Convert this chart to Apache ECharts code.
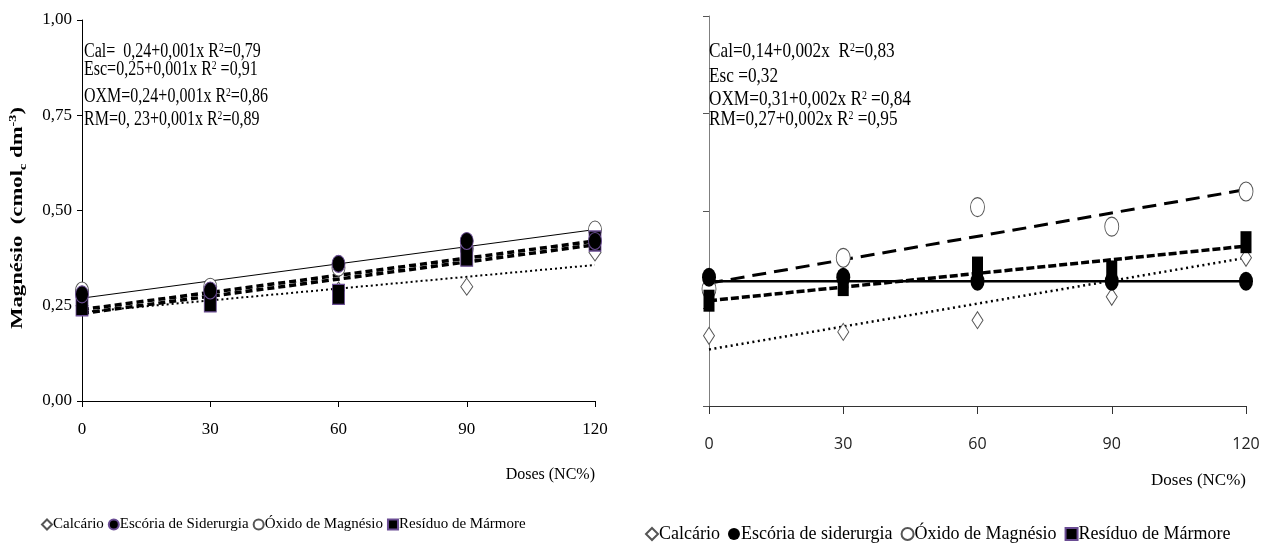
<!DOCTYPE html>
<html>
<head>
<meta charset="utf-8">
<script src="https://cdn.jsdelivr.net/npm/echarts@6/dist/echarts.min.js"></script>
<style>
  html, body { margin: 0; padding: 0; background: #fff; }
  #chart { width: 1269px; height: 543px; }
</style>
</head>
<body>
<div id="chart"></div>
<script>
// doses (% da NC)
var doses = [0, 30, 60, 90, 120];
var trendX = [0, 120];

// grafico esquerdo
var calcarioA = [0.25, 0.27, 0.29, 0.30, 0.39];
var escoriaA = [0.28, 0.29, 0.36, 0.42, 0.42];
var oxidoA = [0.29, 0.30, 0.35, 0.40, 0.45];
var residuoA = [0.25, 0.26, 0.28, 0.38, 0.42];
var calTrendA = [0.233, 0.357];
var escTrendA = [0.24, 0.42];
var oxmTrendA = [0.27, 0.45];
var rmTrendA = [0.23, 0.41];

// grafico direito
var calcarioB = [0.18, 0.19, 0.22, 0.28, 0.38];
var escoriaB = [0.33, 0.33, 0.32, 0.32, 0.32];
var oxidoB = [0.30, 0.38, 0.51, 0.46, 0.55];
var residuoB = [0.27, 0.31, 0.355, 0.345, 0.42];
var calTrendB = [0.145, 0.38];
var escTrendB = [0.32, 0.32];
var oxmTrendB = [0.315, 0.555];
var rmTrendB = [0.27, 0.41];

var yTicks = ['0,00', '0,25', '0,50', '0,75', '1,00'];
var xTicks = ['0', '30', '60', '90', '120'];

var eqA = [
  ['Cal=  0,24+0,001x R', '=0,79'],
  ['Esc=0,25+0,001x R', ' =0,91'],
  ['OXM=0,24+0,001x R', '=0,86'],
  ['RM=0, 23+0,001x R', '=0,89']
];
var eqB = [
  ['Cal=0,14+0,002x  R', '=0,83'],
  ['Esc =0,32', null],
  ['OXM=0,31+0,002x R', ' =0,84'],
  ['RM=0,27+0,002x R', ' =0,95']
];

var serif = '"Liberation Serif", "Times New Roman", serif';
var sans = '"Open Sans", "Noto Sans", sans-serif';

function pair(xs, ys) {
  return xs.map(function (x, i) { return [x, ys[i]]; });
}

var chart = echarts.init(document.getElementById('chart'));

function scatter(name, idx, data, symbol, size, filled, z) {
  return {
    name: name,
    type: 'scatter',
    xAxisIndex: idx,
    yAxisIndex: idx,
    data: pair(doses, data),
    symbol: symbol,
    symbolSize: size,
    z: z,
    itemStyle: filled
      ? { color: '#000', opacity: 1, borderColor: idx === 0 ? '#6a4c93' : '#000', borderWidth: idx === 0 ? 1 : 0 }
      : { color: '#fff', opacity: 1, borderColor: '#555', borderWidth: 1 }
  };
}

function trend(name, idx, data, type, width) {
  return {
    name: name,
    type: 'line',
    xAxisIndex: idx,
    yAxisIndex: idx,
    data: pair(trendX, data),
    showSymbol: false,
    symbol: 'none',
    silent: true,
    z: 3,
    lineStyle: { color: '#000', width: width, type: type }
  };
}

function eqText(list, x, ys, size, sx) {
  return list.map(function (item, i) {
    var txt = item[1] === null ? '{n|' + item[0] + '}' : '{n|' + item[0] + '}{s|2}{n|' + item[1] + '}';
    return {
      type: 'text',
      x: x,
      y: ys[i],
      scaleX: sx,
      z: 50,
      style: {
        text: txt,
        fill: '#000',
        verticalAlign: 'middle',
        rich: {
          n: { fontFamily: serif, fontSize: size, verticalAlign: 'bottom', lineHeight: 20 },
          s: { fontFamily: serif, fontSize: 12, verticalAlign: 'top', lineHeight: 20 }
        }
      }
    };
  });
}

var legendA = [
  { name: 'Calcário', icon: 'diamond' },
  { name: 'Escória de Siderurgia', icon: 'circle' },
  { name: 'Óxido de Magnésio', icon: 'circle' },
  { name: 'Resíduo de Mármore', icon: 'rect' }
];
var legendB = [
  { name: 'Calcário', icon: 'diamond' },
  { name: 'Escória de siderurgia', icon: 'circle' },
  { name: 'Óxido de Magnésio', icon: 'circle' },
  { name: 'Resíduo de Mármore', icon: 'rect' }
];

var option = {
  animation: false,
  backgroundColor: '#fff',
  grid: [
    { left: 82, right: 674, top: 20, bottom: 142 },
    { left: 709, right: 23, top: 16, bottom: 137 }
  ],
  xAxis: [
    {
      type: 'value', gridIndex: 0, min: 0, max: 120, interval: 30,
      splitLine: { show: false },
      axisLine: { lineStyle: { color: '#000', width: 1 } },
      axisTick: { length: 6, lineStyle: { color: '#000' } },
      axisLabel: { color: '#000', fontFamily: serif, fontSize: 17, margin: 20,
        formatter: function (v) { return xTicks[doses.indexOf(v)]; } },
      name: 'Doses (NC%)', nameLocation: 'end', nameGap: 0,
      nameTextStyle: { color: '#000', fontFamily: serif, fontSize: 16, align: 'right', verticalAlign: 'top', padding: [66, 0, 0, 0] }
    },
    {
      type: 'value', gridIndex: 1, min: 0, max: 120, interval: 30,
      splitLine: { show: false },
      axisLine: { lineStyle: { color: '#333', width: 1 } },
      axisTick: { length: 8, lineStyle: { color: '#333' } },
      axisLabel: { color: '#222', fontFamily: sans, fontSize: 16, margin: 30,
        formatter: function (v) { return xTicks[doses.indexOf(v)]; } },
      name: 'Doses (NC%)', nameLocation: 'end', nameGap: 0,
      nameTextStyle: { color: '#000', fontFamily: serif, fontSize: 17, align: 'right', verticalAlign: 'top', padding: [66, 0, 0, 0] }
    }
  ],
  yAxis: [
    {
      type: 'value', gridIndex: 0, min: 0, max: 1, interval: 0.25,
      splitLine: { show: false },
      axisLine: { show: true, lineStyle: { color: '#000', width: 1 } },
      axisTick: { show: true, length: 5, lineStyle: { color: '#000' } },
      axisLabel: { color: '#000', fontFamily: serif, fontSize: 17, margin: 10,
        formatter: function (v) { return yTicks[Math.round(v * 4)]; } }
    },
    {
      type: 'value', gridIndex: 1, min: 0, max: 1, interval: 0.25,
      splitLine: { show: false },
      axisLine: { show: true, lineStyle: { color: '#7f7f7f', width: 1 } },
      axisTick: { show: true, length: 6, lineStyle: { color: '#555' } },
      axisLabel: { show: false }
    }
  ],
  legend: [
    {
      data: legendA, left: 36, top: 512, width: 560, itemWidth: 10, itemHeight: 10, itemGap: 4,
      selectedMode: false,
      textStyle: { color: '#000', fontFamily: serif, fontSize: 15, padding: [0, 0, 0, -4] }
    },
    {
      data: legendB, left: 640, top: 520, width: 630, itemWidth: 12, itemHeight: 12, itemGap: 8,
      selectedMode: false,
      textStyle: { color: '#000', fontFamily: serif, fontSize: 18, padding: [0, 0, 0, -4] }
    }
  ],
  graphic: [
    {
      type: 'text', x: 18, y: 218, rotation: Math.PI / 2, scaleX: 1.42, z: 50,
      style: {
        text: '{b|Magnésio  (cmol}{sub|c}{b| dm}{sup|-3}{b|)}',
        fill: '#000', align: 'center', verticalAlign: 'middle',
        rich: {
          b: { fontFamily: serif, fontSize: 16, fontWeight: 'bold', verticalAlign: 'middle', lineHeight: 20 },
          sub: { fontFamily: serif, fontSize: 10, fontWeight: 'bold', verticalAlign: 'bottom', lineHeight: 20 },
          sup: { fontFamily: serif, fontSize: 10, fontWeight: 'bold', verticalAlign: 'top', lineHeight: 20 }
        }
      }
    }
  ].concat(eqText(eqA, 84, [52, 70, 97, 120], 20, 0.8)).concat(eqText(eqB, 709, [52, 77, 100, 120], 21, 0.82)),
  series: [
    trend('calTrendA', 0, calTrendA, [2, 3], 2),
    trend('escTrendA', 0, escTrendA, [7, 4], 3.5),
    trend('oxmTrendA', 0, oxmTrendA, 'solid', 1),
    trend('rmTrendA', 0, rmTrendA, [7, 4], 3.5),
    scatter('Calcário', 0, calcarioA, 'diamond', [12, 17], false, 5),
    scatter('Óxido de Magnésio', 0, oxidoA, 'circle', [13, 17], false, 6),
    scatter('Resíduo de Mármore', 0, residuoA, 'rect', [12, 20], true, 7),
    scatter('Escória de Siderurgia', 0, escoriaA, 'circle', [13, 17], true, 8),

    trend('calTrendB', 1, calTrendB, [2, 3.5], 2.5),
    trend('escTrendB', 1, escTrendB, 'solid', 2.5),
    trend('oxmTrendB', 1, oxmTrendB, [14, 8], 3),
    trend('rmTrendB', 1, rmTrendB, [8, 3], 3.5),
    scatter('Calcário', 1, calcarioB, 'diamond', [11, 17], false, 5),
    scatter('Óxido de Magnésio', 1, oxidoB, 'circle', [14, 19], false, 6),
    scatter('Escória de siderurgia', 1, escoriaB, 'circle', [14, 19], true, 7),
    scatter('Resíduo de Mármore', 1, residuoB, 'rect', [11, 22], true, 8)
  ]
};

chart.setOption(option);
window.addEventListener('resize', function () { chart.resize(); });
</script>
</body>
</html>
